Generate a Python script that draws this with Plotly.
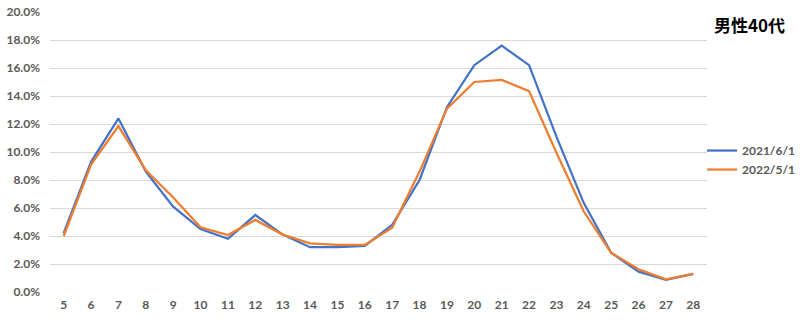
import plotly.graph_objects as go

categories = [str(i) for i in range(5, 29)]
series_2021 = [4.2, 9.3, 12.4, 8.6, 6.1, 4.5, 3.8, 5.5, 4.1, 3.2, 3.2, 3.3,
               4.8, 8.0, 13.2, 16.2, 17.6, 16.2, 11.1, 6.35, 2.8, 1.45, 0.86, 1.3]
series_2022 = [4.0, 9.1, 11.85, 8.7, 6.75, 4.62, 4.07, 5.15, 4.1, 3.47, 3.36, 3.36,
               4.6, 8.6, 13.1, 15.0, 15.15, 14.35, 9.95, 5.75, 2.8, 1.62, 0.9, 1.3]
series_names = ["2021/6/1", "2022/5/1"]
colors = ["#4472C4", "#ED7D31"]
title_text = "男性40代"

fig = go.Figure()
for name, vals, c in zip(series_names, [series_2021, series_2022], colors):
    fig.add_trace(go.Scatter(
        x=categories, y=[v / 100 for v in vals], mode="lines", name=name,
        line=dict(color=c, width=2.25),
    ))

tick_font = dict(family="Lato, 'Liberation Sans', sans-serif", size=12, color="#595959", weight="bold")

fig.update_layout(
    width=800, height=322,
    margin=dict(l=50, r=93, t=12, b=30, autoexpand=False),
    paper_bgcolor="white", plot_bgcolor="white",
    showlegend=True,
    legend=dict(x=1.1416, xanchor="right", y=0.557, yanchor="top",
                font=tick_font, bgcolor="rgba(0,0,0,0)",
                tracegroupgap=0, itemwidth=30),
    xaxis=dict(type="category", range=[-0.5, len(categories) - 0.5],
               showgrid=False, zeroline=False, showline=False, automargin=False,
               ticks="", tickfont=tick_font, fixedrange=True, ticklabelstandoff=4),
    yaxis=dict(range=[0, 0.2], dtick=0.02, tickformat=".1%", showgrid=True,
               gridcolor="#D9D9D9", gridwidth=1, zeroline=False, showline=False,
               automargin=False, ticks="", tickfont=tick_font, ticklabelstandoff=9,
               fixedrange=True),
    annotations=[dict(text=title_text, xref="paper", yref="paper", x=1.0076, y=0.957,
                      xanchor="left", yanchor="middle", showarrow=False,
                      font=dict(family="Noto Sans CJK JP", size=17, color="#000000", weight="bold"))],
)

fig.write_html("out.html", config={"displayModeBar": False},
               post_script="document.body.style.margin='0';")
